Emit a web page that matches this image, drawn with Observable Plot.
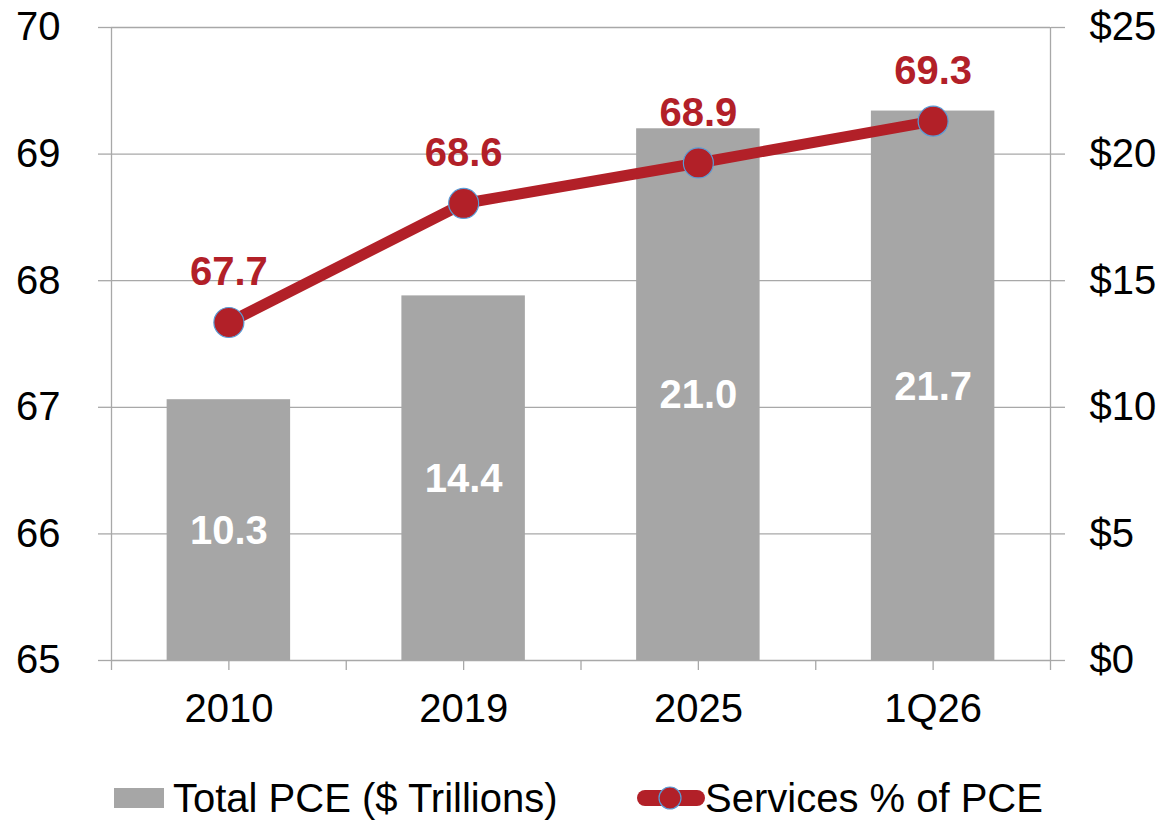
<!DOCTYPE html>
<html>
<head>
<meta charset="utf-8">
<script src="https://cdn.jsdelivr.net/npm/d3@7"></script>
<script src="https://cdn.jsdelivr.net/npm/@observablehq/plot@0.6"></script>
<style>
  html, body { margin: 0; padding: 0; background: #fff; }
  #wrap { position: relative; width: 1163px; height: 820px; font-family: "Liberation Sans", Arial, sans-serif; }
  #legend { position: absolute; left: 0; top: 740px; }
</style>
</head>
<body>
<div id="wrap"><div id="chart"></div><svg id="legend" width="1163" height="80"></svg></div>
<script>
const categories = ["2010", "2019", "2025", "1Q26"];
const totalPCE = [10.3, 14.4, 21.0, 21.7];
const totalPCELabels = ["10.3", "14.4", "21.0", "21.7"];
const servicesShare = [67.67, 68.61, 68.93, 69.26];
const servicesLabels = ["67.7", "68.6", "68.9", "69.3"];
const leftTicks = [65, 66, 67, 68, 69, 70];
const leftTickLabels = ["65", "66", "67", "68", "69", "70"];
const rightTickLabels = ["$0", "$5", "$10", "$15", "$20", "$25"];
const seriesNames = ["Total PCE ($ Trillions)", "Services % of PCE"];

const barColor = "#a6a6a6";
const lineColor = "#b22028";
const markerStroke = "#5b9bd5";
const gridColor = "#a8a8a8";

// right axis: $0..$25 maps onto 65..70
const toLeft = v => 65 + v / 5;

const data = categories.map((c, i) => ({
  i, cat: c, pce: totalPCE[i], pceLabel: totalPCELabels[i],
  share: servicesShare[i], shareLabel: servicesLabels[i]
}));
const xTickPos = d3.range(0, categories.length + 0.01, 0.5);
const xLabelPos = categories.map((c, i) => i + 0.5);
const halfBar = 0.263;

const chart = Plot.plot({
  width: 1163,
  height: 740,
  marginLeft: 111,
  marginRight: 113,
  marginTop: 27,
  marginBottom: 80,
  style: { fontFamily: "'Liberation Sans', Arial, sans-serif", color: "#000", background: "#fff" },
  x: { domain: [0, categories.length], axis: null },
  y: { domain: [65, 70], axis: null },
  marks: [
    Plot.ruleY(leftTicks, { stroke: gridColor, strokeWidth: 1.3 }),
    Plot.rectY(data, {
      x1: d => d.i + 0.5 - halfBar, x2: d => d.i + 0.5 + halfBar,
      y1: () => 65, y2: d => toLeft(d.pce), fill: barColor
    }),
    Plot.ruleX([0, categories.length], { y1: () => 65, y2: () => 70, stroke: gridColor, strokeWidth: 1.3 }),
    Plot.line(data, { x: d => d.i + 0.5, y: "share", stroke: lineColor, strokeWidth: 11, strokeLinejoin: "round" }),
    Plot.dot(data, { x: d => d.i + 0.5, y: "share", r: 15, fill: lineColor, stroke: markerStroke, strokeWidth: 1.2 }),
    Plot.text(data, { x: d => d.i + 0.5, y: "share", text: "shareLabel", dy: -50, fill: lineColor, fontSize: 40, fontWeight: "bold" }),
    Plot.text(data, { x: d => d.i + 0.5, y: d => toLeft(d.pce / 2), text: "pceLabel", dy: 1, fill: "#fff", fontSize: 40, fontWeight: "bold" }),
    Plot.axisY(leftTicks, { anchor: "left", tickSize: 13, tickPadding: 38, fontSize: 40, stroke: gridColor, strokeWidth: 1.3, fill: "#000", label: null,
      tickFormat: d => leftTickLabels[leftTicks.indexOf(d)] }),
    Plot.axisY(leftTicks, { anchor: "right", tickSize: 14, tickPadding: 25, fontSize: 40, stroke: gridColor, strokeWidth: 1.3, fill: "#000", label: null,
      tickFormat: d => rightTickLabels[leftTicks.indexOf(d)] }),
    Plot.axisX(xTickPos, { tickSize: 10, stroke: gridColor, strokeWidth: 1.3, tickFormat: () => "", label: null }),
    Plot.axisX(xLabelPos, { tickSize: 0, tickPadding: 33, fontSize: 40, fill: "#000", label: null,
      tickFormat: d => categories[Math.round(d - 0.5)] })
  ]
});
document.getElementById("chart").appendChild(chart);

// Legend
const leg = d3.select("#legend");
const ff = "'Liberation Sans', Arial, sans-serif";
leg.append("rect").attr("x", 114).attr("y", 48).attr("width", 50).attr("height", 20).attr("fill", barColor);
leg.append("text").attr("x", 173).attr("y", 72).attr("font-size", 40).attr("font-family", ff).attr("fill", "#000").text(seriesNames[0]);
leg.append("line").attr("x1", 645).attr("x2", 697).attr("y1", 58).attr("y2", 58)
  .attr("stroke", lineColor).attr("stroke-width", 16).attr("stroke-linecap", "round");
leg.append("circle").attr("cx", 670).attr("cy", 58).attr("r", 11).attr("fill", lineColor).attr("stroke", markerStroke).attr("stroke-width", 1.2);
leg.append("text").attr("x", 705).attr("y", 72).attr("font-size", 40).attr("font-family", ff).attr("fill", "#000").text(seriesNames[1]);
</script>
</body>
</html>
